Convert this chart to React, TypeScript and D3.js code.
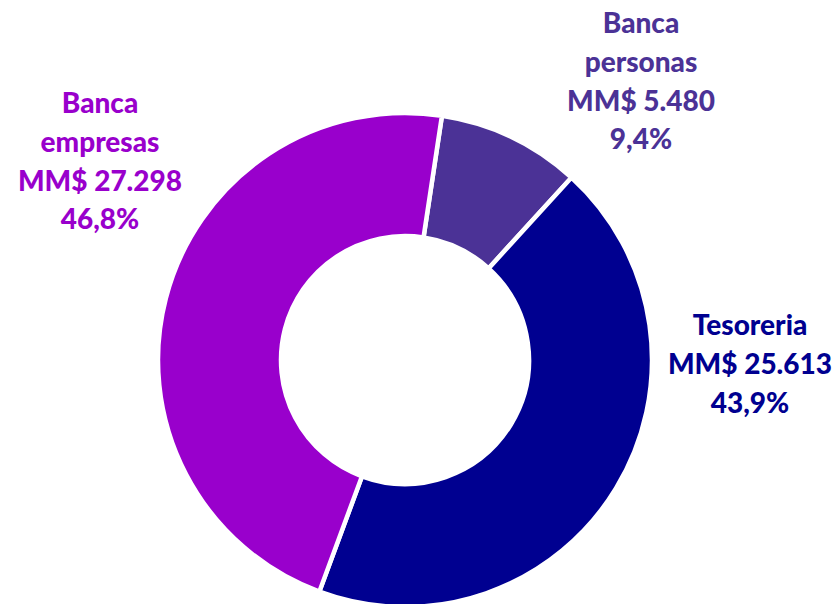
import React from "react";
import * as d3 from "d3";

const categories = ["Banca personas", "Tesoreria", "Banca empresas"];
const values = [5480, 25613, 27298];
const valueLabels = ["MM$ 5.480", "MM$ 25.613", "MM$ 27.298"];
const pctLabels = ["9,4%", "43,9%", "46,8%"];
const nameLines = [["Banca", "personas"], ["Tesoreria"], ["Banca", "empresas"]];
const colors = ["#4B3296", "#000090", "#9900CC"];

const W = 838, H = 604;
const cx = 405, cy = 360, rOuter = 247, rInner = 124;
const startDeg = 8.6;

// label anchors: center x and first baseline
const labelPos = [
  { x: 641, y: 33 },
  { x: 750, y: 335 },
  { x: 100, y: 113 },
];
const lineH = 38.8;

export default function App() {
  const pie = d3
    .pie<number>()
    .sort(null)
    .value((d) => d)
    .startAngle((startDeg * Math.PI) / 180)
    .endAngle((startDeg * Math.PI) / 180 + 2 * Math.PI);
  const arcs = pie(values);
  const arc = d3.arc<d3.PieArcDatum<number>>().innerRadius(rInner).outerRadius(rOuter);

  return (
    <svg width={W} height={H} style={{ position: "absolute", left: 0, top: 0 }}>
      <rect width={W} height={H} fill="#fff" />
      <g transform={`translate(${cx},${cy})`}>
        {arcs.map((a, i) => (
          <path key={categories[i]} d={arc(a) || ""} fill={colors[i]} stroke="#fff" strokeWidth={4.5} strokeLinejoin="miter" />
        ))}
      </g>
      {categories.map((c, i) => {
        const lines = [...nameLines[i], valueLabels[i], pctLabels[i]];
        return (
          <text
            key={c}
            x={labelPos[i].x}
            y={labelPos[i].y}
            fill={colors[i]}
            textAnchor="middle"
            fontFamily="Lato, 'Open Sans', sans-serif"
            fontWeight={900}
            fontSize={28}
          >
            {lines.map((l, j) => (
              <tspan key={j} x={labelPos[i].x} y={labelPos[i].y + j * lineH}>
                {l}
              </tspan>
            ))}
          </text>
        );
      })}
    </svg>
  );
}
